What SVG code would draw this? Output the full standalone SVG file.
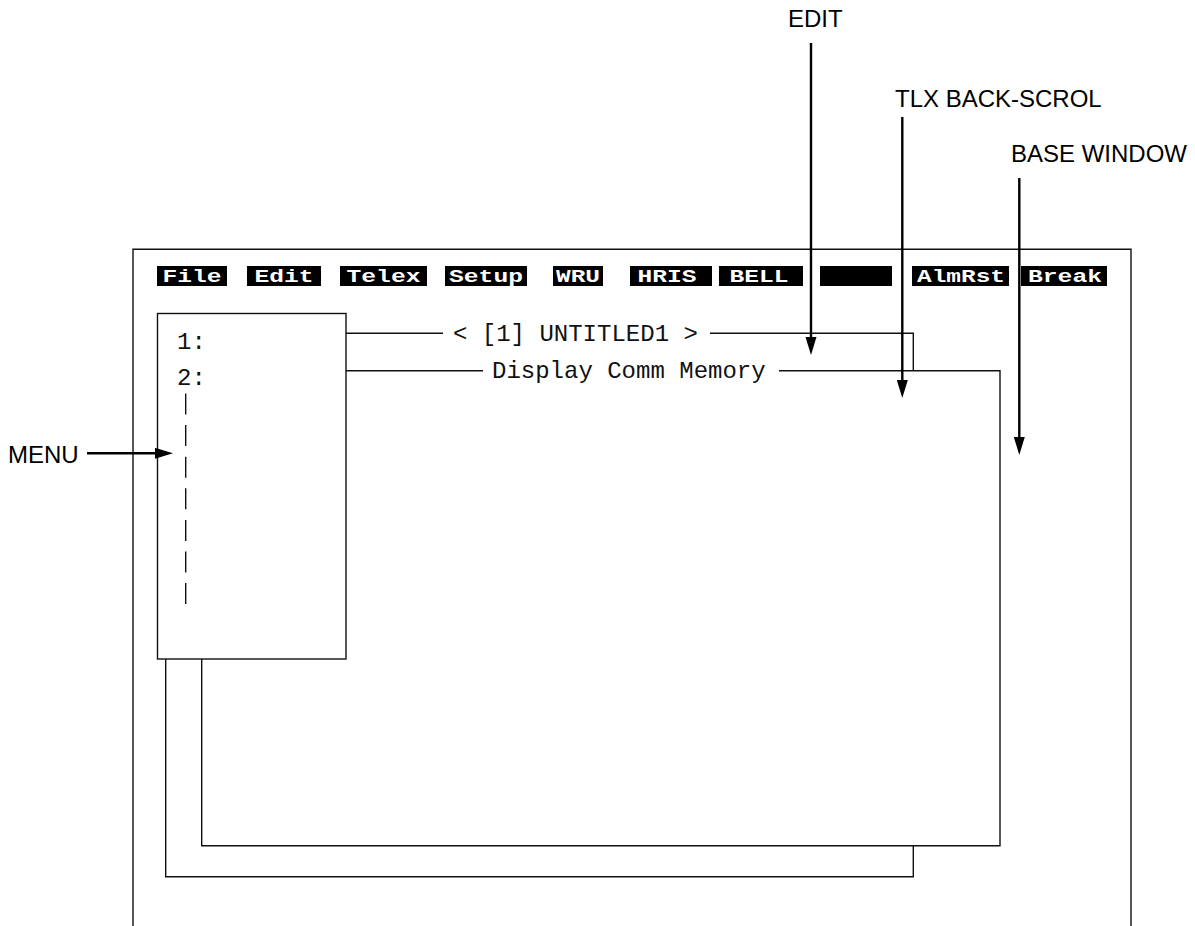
<svg xmlns="http://www.w3.org/2000/svg" width="1195" height="926" viewBox="0 0 1195 926">
<style>
.ln{fill:none;stroke:#111;stroke-width:1.4}
.btn{fill:#000}
.bt{font-family:"Liberation Mono",monospace;font-weight:bold;font-size:17.5px;fill:#fff;text-anchor:middle}
.mono{font-family:"Liberation Mono",monospace;font-size:24px;fill:#111}
.lbl{font-family:"Liberation Sans",Arial,sans-serif;font-size:24px;fill:#000}
.arr{fill:none;stroke:#000;stroke-width:2.4}
</style>
<defs>
<marker id="ah" markerUnits="userSpaceOnUse" markerWidth="20" markerHeight="12" refX="3" refY="5.5" orient="auto">
<path d="M0,0 L18,5.5 L0,11 Z" fill="#000"/>
</marker>
</defs>
<rect width="1195" height="926" fill="#fff"/>
<g id="base-window">
<path class="ln" d="M133,926 V249.3 H1131 V926"/>
</g>
<g id="menu-bar">
<rect class="btn" x="157" y="266" width="70" height="20"/><text class="bt" x="192" y="282" textLength="59" lengthAdjust="spacingAndGlyphs">File</text>
<rect class="btn" x="247" y="266" width="74" height="20"/><text class="bt" x="284" y="282" textLength="59" lengthAdjust="spacingAndGlyphs">Edit</text>
<rect class="btn" x="340" y="266" width="87" height="20"/><text class="bt" x="383.5" y="282" textLength="74" lengthAdjust="spacingAndGlyphs">Telex</text>
<rect class="btn" x="445" y="266" width="82" height="20"/><text class="bt" x="486" y="282" textLength="74" lengthAdjust="spacingAndGlyphs">Setup</text>
<rect class="btn" x="553" y="266" width="50" height="20"/><text class="bt" x="578" y="282" textLength="44" lengthAdjust="spacingAndGlyphs">WRU</text>
<rect class="btn" x="630" y="266" width="82" height="20"/><text class="bt" x="667" y="282" textLength="59" lengthAdjust="spacingAndGlyphs">HRIS</text>
<rect class="btn" x="719" y="266" width="84" height="20"/><text class="bt" x="759" y="282" textLength="59" lengthAdjust="spacingAndGlyphs">BELL</text>
<rect class="btn" x="820" y="266" width="72" height="20"/>
<rect class="btn" x="912" y="266" width="97" height="20"/><text class="bt" x="961" y="282" textLength="88" lengthAdjust="spacingAndGlyphs">AlmRst</text>
<rect class="btn" x="1021" y="266" width="86" height="20"/><text class="bt" x="1065" y="282" textLength="74" lengthAdjust="spacingAndGlyphs">Break</text>
</g>
<g id="edit-window">
<path class="ln" d="M346,333.3 H443"/>
<path class="ln" d="M710,333.3 H913.3 V370.7"/>
<path class="ln" d="M913.3,845.7 V876.7 H165.7 V659"/>
<text class="mono" x="453" y="341">&lt; [1] UNTITLED1 &gt;</text>
</g>
<g id="tlx-window">
<path class="ln" d="M346,370.7 H483"/>
<path class="ln" d="M779,370.7 H1000 V845.7 H201.7 V659"/>
<text class="mono" x="492" y="378">Display Comm Memory</text>
</g>
<g id="menu-window">
<rect class="ln" x="157.5" y="313.5" width="188.5" height="345.5" fill="#fff"/>
<text class="mono" x="177" y="349">1:</text>
<text class="mono" x="177" y="385">2:</text>
<line class="ln" x1="185.7" y1="393.5" x2="185.7" y2="605" stroke-dasharray="21 10.6"/>
</g>
<g id="labels">
<text class="lbl" x="788" y="27">EDIT</text>
<text class="lbl" x="895" y="107">TLX BACK-SCROL</text>
<text class="lbl" x="1011" y="162">BASE WINDOW</text>
<text class="lbl" x="8" y="463">MENU</text>
</g>
<g id="connectors">
<path class="arr" d="M811,43 V340" marker-end="url(#ah)"/>
<path class="arr" d="M902.3,117 V383" marker-end="url(#ah)"/>
<path class="arr" d="M1019.3,178 V440" marker-end="url(#ah)"/>
<path class="arr" d="M87,453.3 H158" marker-end="url(#ah)"/>
</g>
</svg>
